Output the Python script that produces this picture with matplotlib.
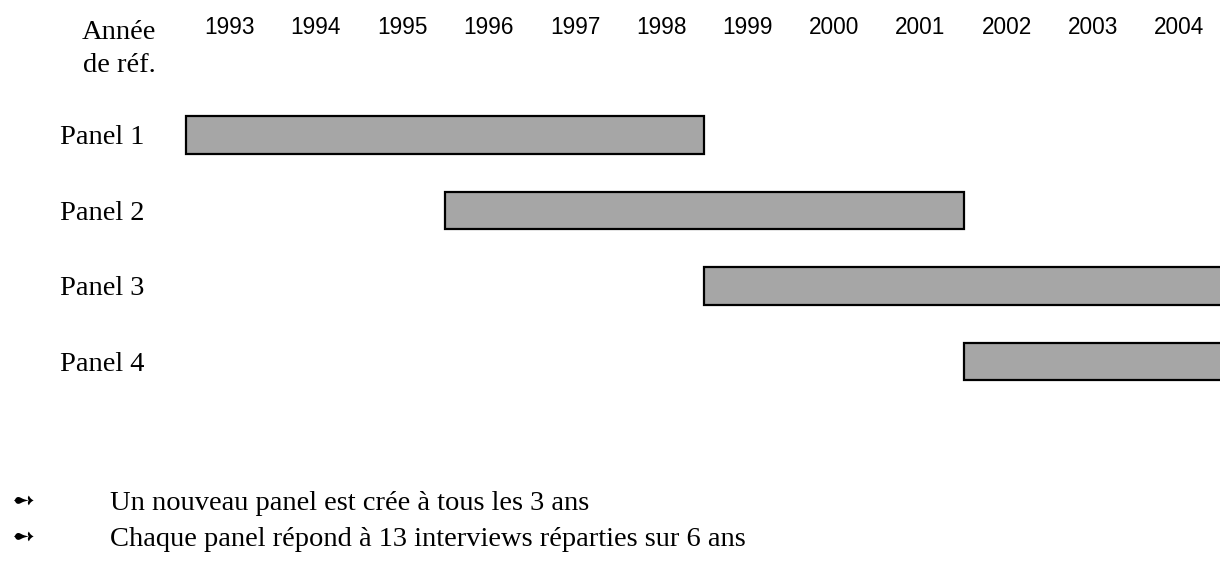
import matplotlib
matplotlib.use('Agg')
import matplotlib.pyplot as plt

# data
years = list(range(1993, 2005))
panels = ['Panel 1', 'Panel 2', 'Panel 3', 'Panel 4']
starts = [1993, 1996, 1999, 2002]
duration = 6
notes = ['Un nouveau panel est crée à tous les 3 ans',
         'Chaque panel répond à 13 interviews réparties sur 6 ans']

serif = 'Liberation Serif'
sans = 'Liberation Sans'

fig = plt.figure(figsize=(12.2, 5.61), dpi=100)
ax = fig.add_axes([0, 0, 1, 1])
ax.set_xlim(1990.842, 2004.97)
ax.set_ylim(5.642, -1.788)
ax.axis('off')

rows = list(range(len(panels)))
ax.barh(rows, [duration] * len(starts), left=starts, height=0.5,
        color='#a6a6a6', edgecolor='black', linewidth=1.6, clip_on=True)

# panel labels
for r, name in zip(rows, panels):
    ax.text(1991.54, r + 0.12, name, fontsize=20.5, family=serif,
            ha='left', va='baseline')

# year header
for y in years:
    ax.text(y + 0.5, -1.42, str(y), fontsize=16.3, family=sans,
            ha='center', va='center')
ax.text(1992.65, -1.275, 'Année', fontsize=20.5, family=serif,
        ha='right', va='baseline')
ax.text(1992.65, -0.834, 'de réf.', fontsize=20.5, family=serif,
        ha='right', va='baseline')

# notes with bullets
for i, note in enumerate(notes):
    yp = 1 - (510 + 36 * i) / 561
    fig.text(12 / 1220, yp + 0.002, '\u27bb', fontsize=20, family='DejaVu Sans',
             ha='left', va='baseline')
    fig.text(110 / 1220, yp, note, fontsize=20.5, family=serif,
             ha='left', va='baseline')

fig.savefig('out.png', dpi=100)
